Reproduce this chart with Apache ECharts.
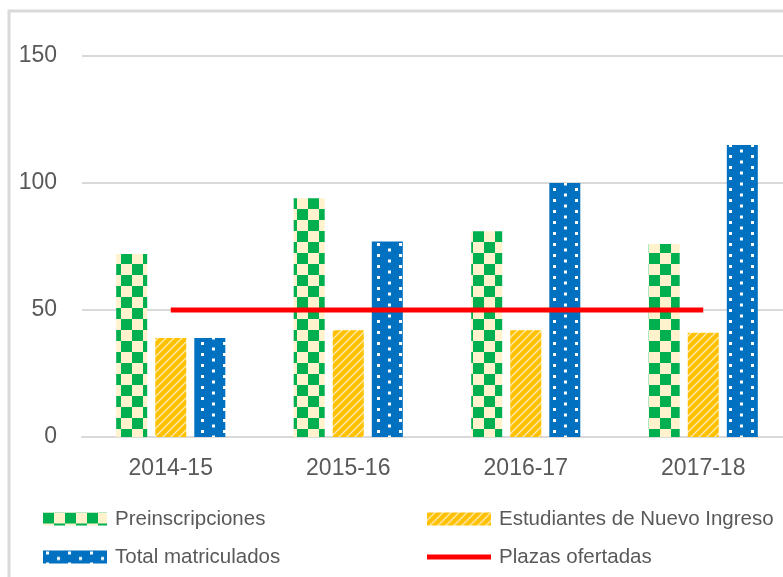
<!DOCTYPE html>
<html>
<head>
<meta charset="utf-8">
<script src="https://cdn.jsdelivr.net/npm/echarts@6/dist/echarts.min.js"></script>
<style>
html,body{margin:0;padding:0;background:#fff;}
#main{width:783px;height:577px;}
</style>
</head>
<body>
<div id="main"></div>
<script>
var categories = ['2014-15', '2015-16', '2016-17', '2017-18'];
var preinscripciones = [72, 94, 81, 76];
var estudiantes = [39, 42, 42, 41];
var totalMatriculados = [39, 77, 100, 115];
var plazas = [50, 50, 50, 50];
var seriesNames = ['Preinscripciones', 'Estudiantes de Nuevo Ingreso', 'Total matriculados', 'Plazas ofertadas'];

function checkerPattern() {
  var c = document.createElement('canvas');
  c.width = 22; c.height = 22;
  var ctx = c.getContext('2d');
  ctx.fillStyle = '#FFF2CC'; ctx.fillRect(0, 0, 22, 22);
  ctx.fillStyle = '#00B050';
  ctx.fillRect(0, 0, 11, 11);
  ctx.fillRect(11, 11, 11, 11);
  return c;
}
function diagPattern() {
  var c = document.createElement('canvas');
  c.width = 8; c.height = 8;
  var ctx = c.getContext('2d');
  ctx.fillStyle = '#FFC000'; ctx.fillRect(0, 0, 8, 8);
  ctx.strokeStyle = 'rgba(255,242,204,0.85)';
  ctx.lineWidth = 1.4;
  ctx.beginPath();
  ctx.moveTo(-2, 10); ctx.lineTo(10, -2);
  ctx.moveTo(-6, 6); ctx.lineTo(6, -6);
  ctx.moveTo(2, 14); ctx.lineTo(14, 2);
  ctx.stroke();
  return c;
}
function dotPattern() {
  var c = document.createElement('canvas');
  c.width = 22; c.height = 11;
  var ctx = c.getContext('2d');
  ctx.fillStyle = '#0070C0'; ctx.fillRect(0, 0, 22, 11);
  ctx.fillStyle = '#FFFFFF';
  ctx.fillRect(3, 1, 3, 3);
  ctx.fillRect(14, 6.5, 3, 3);
  return c;
}

var txtColor = '#595959';
var font = 'Liberation Sans';
var chart = echarts.init(document.getElementById('main'), null, {renderer: 'canvas'});
chart.setOption({
  animation: false,
  backgroundColor: '#ffffff',
  graphic: [{
    type: 'rect', silent: true, z: 0,
    shape: {x: 9, y: 11, width: 820, height: 620},
    style: {fill: 'none', stroke: '#D9D9D9', lineWidth: 3}
  }],
  grid: {left: 82, width: 710, top: 56, height: 381, containLabel: false, outerBoundsMode: 'none'},
  xAxis: {
    type: 'category',
    data: categories,
    axisLine: {show: true, lineStyle: {color: '#D9D9D9', width: 2}},
    axisTick: {show: false},
    axisLabel: {color: txtColor, fontFamily: font, fontSize: 23, margin: 20}
  },
  yAxis: {
    type: 'value', min: 0, max: 150, interval: 50,
    axisLine: {show: false}, axisTick: {show: false},
    splitLine: {lineStyle: {color: '#D9D9D9', width: 2}},
    axisLabel: {color: txtColor, fontFamily: font, fontSize: 23, margin: 25}
  },
  legend: [{
    orient: 'vertical', left: 43, top: 507, padding: 0,
    itemWidth: 64, itemHeight: 13, itemGap: 14,
    data: [{name: seriesNames[0], icon: 'rect'}, {name: seriesNames[2], icon: 'rect'}],
    textStyle: {color: txtColor, fontFamily: font, fontSize: 20.5, lineHeight: 24, padding: [0, 0, 0, 3]}
  }, {
    orient: 'vertical', left: 427, top: 507, padding: 0,
    itemWidth: 64, itemHeight: 13, itemGap: 14, symbolKeepAspect: true,
    data: [{name: seriesNames[1], icon: 'rect'}, {name: seriesNames[3], icon: 'path://M0,0H64V5H0Z'}],
    textStyle: {color: txtColor, fontFamily: font, fontSize: 20.5, lineHeight: 24, padding: [0, 0, 0, 3]}
  }],
  series: [{
    name: seriesNames[0], type: 'bar', data: preinscripciones,
    barWidth: 31, barGap: '26%',
    itemStyle: {color: {image: checkerPattern(), repeat: 'repeat'}}
  }, {
    name: seriesNames[1], type: 'bar', data: estudiantes,
    barWidth: 31, barGap: '26%',
    itemStyle: {color: {image: diagPattern(), repeat: 'repeat'}}
  }, {
    name: seriesNames[2], type: 'bar', data: totalMatriculados,
    barWidth: 31, barGap: '26%',
    itemStyle: {color: {image: dotPattern(), repeat: 'repeat'}}
  }, {
    name: seriesNames[3], type: 'line', data: plazas,
    symbol: 'none', z: 5,
    lineStyle: {color: '#FF0000', width: 5},
    itemStyle: {color: '#FF0000'}
  }]
});
</script>
</body>
</html>
